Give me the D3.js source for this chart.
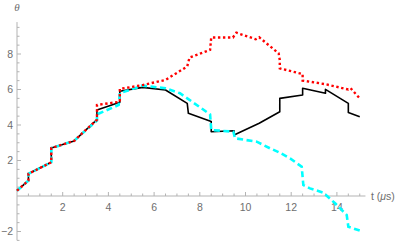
<!DOCTYPE html>
<html><head><meta charset="utf-8">
<script src="https://cdn.jsdelivr.net/npm/d3@7"></script>
<style>body{margin:0;background:#fff}svg{display:block}</style>
</head><body>
<svg id="c" width="403" height="244"></svg>
<script>
// data: [t, theta]
const blackSeries = [[0,0.3],[0.5,0.87],[0.5,1.25],[1.5,1.9],[1.5,2.7],[2.5,3.1],[2.7,3.35],[3.5,4.3],[3.5,4.85],[4.5,5.28],[4.5,5.9],[5.5,6.12],[6.5,5.97],[7.45,5.22],[7.5,4.66],[8.5,4.2],[8.5,3.62],[9.5,3.68],[9.5,3.44],[10.6,4.1],[11.5,4.75],[11.5,5.5],[12.5,5.69],[12.5,6.07],[13.5,5.79],[13.5,6.01],[14.5,5.22],[14.5,4.71],[15,4.47]];
const redSeries = [[0,0.3],[0.5,0.87],[0.5,1.25],[1.5,1.9],[1.5,2.7],[2.5,3.1],[2.7,3.35],[3.5,4.3],[3.5,5.13],[4.5,5.31],[4.5,6.03],[5.5,6.25],[6.5,6.54],[7.45,7.3],[7.55,7.8],[8.45,8.23],[8.5,8.93],[9.45,8.93],[9.6,9.2],[10.45,8.83],[10.6,8.94],[11.45,8.04],[11.5,7.66],[11.5,7.19],[12.5,6.87],[12.5,6.5],[13.5,6.3],[14.5,6.0],[14.6,6.07],[15,5.5]];
const cyanSeries = [[0,0.3],[0.5,0.87],[0.5,1.25],[1.5,1.9],[1.5,2.7],[2.5,3.1],[2.7,3.35],[3.5,4.25],[3.5,4.6],[4.45,5.13],[4.5,5.79],[5.5,6.22],[6.5,6.07],[7.13,5.79],[8.45,4.6],[8.5,3.72],[9.47,3.62],[9.54,3.25],[10.49,3.06],[11.07,2.69],[11.5,2.44],[11.95,2.12],[12.46,1.65],[12.53,0.62],[12.82,0.43],[13.4,0.19],[13.92,-0.41],[14.43,-1.07],[14.5,-1.73],[15,-1.95]];
const xTickLabels = [2,4,6,8,10,12,14];
const yTickLabels = [-2,2,4,6,8];

const svg = d3.select("#c");
const x = d3.scaleLinear().domain([0,15]).range([17,17+15*22.85]);
const y = d3.scaleLinear().domain([0,8]).range([196,196-8*17.75]);
const xMax = 15.25, yMin = -2.5, yMax = 9.8;
const axisCol = "#b3b3b3", labCol = "#6e6e6e";

const g = svg.append("g");
g.append("line").attr("x1",x(0)).attr("x2",x(xMax)).attr("y1",y(0)).attr("y2",y(0)).attr("stroke",axisCol).attr("stroke-width",1);
g.append("line").attr("x1",x(0)).attr("x2",x(0)).attr("y1",y(yMin)).attr("y2",y(yMax)).attr("stroke",axisCol).attr("stroke-width",1);

const xt = d3.range(0.5,15.01,0.5);
g.selectAll(".xt").data(xt).join("line")
  .attr("x1",d=>x(d)).attr("x2",d=>x(d))
  .attr("y1",y(0)).attr("y2",d=> y(0) - (d%2===0?4:2.5))
  .attr("stroke",axisCol).attr("stroke-width",1);
const yt = d3.range(-2.5,9.51,0.5).filter(d=>d!==0);
g.selectAll(".yt").data(yt).join("line")
  .attr("y1",d=>y(d)).attr("y2",d=>y(d))
  .attr("x1",x(0)).attr("x2",d=> x(0) + (d%2===0?4:2.5))
  .attr("stroke",axisCol).attr("stroke-width",1);

g.selectAll(".xl").data(xTickLabels).join("text")
  .attr("x",d=>x(d)).attr("y",y(0)+15)
  .attr("text-anchor","middle").attr("font-family","Liberation Sans, Arial, sans-serif")
  .attr("font-size",10.5).attr("fill",labCol).text(d=>d);
g.selectAll(".yl").data(yTickLabels).join("text")
  .attr("x",x(0)-4).attr("y",d=>y(d)+3.8)
  .attr("text-anchor","end").attr("font-family","Liberation Sans, Arial, sans-serif")
  .attr("font-size",10.5).attr("fill",labCol).text(d=>d<0?"\u2212"+Math.abs(d):d);

g.append("text").attr("x",x(0)).attr("y",11).attr("text-anchor","middle")
  .attr("font-family","Liberation Serif, serif").attr("font-style","italic")
  .attr("font-size",11).attr("fill",labCol).text("θ");
const tl = g.append("text").attr("x",371).attr("y",y(0)+4)
  .attr("font-family","Liberation Sans, Arial, sans-serif").attr("font-size",10.5).attr("fill",labCol);
tl.append("tspan").text("t (");
tl.append("tspan").attr("font-style","italic").text("μ");
tl.append("tspan").text("s)");

const line = d3.line().x(d=>x(d[0])).y(d=>y(d[1]));
g.append("path").attr("d",line(blackSeries)).attr("fill","none")
  .attr("stroke","#000").attr("stroke-width",1.6).attr("stroke-linejoin","round");
g.append("path").attr("d",line(cyanSeries)).attr("fill","none")
  .attr("stroke","#00ffff").attr("stroke-width",2.6).attr("stroke-dasharray","6,3.5");
g.append("path").attr("d",line(redSeries)).attr("fill","none")
  .attr("stroke","#ff0000").attr("stroke-width",2.4).attr("stroke-dasharray","2.4,2.6");
</script>
</body></html>
